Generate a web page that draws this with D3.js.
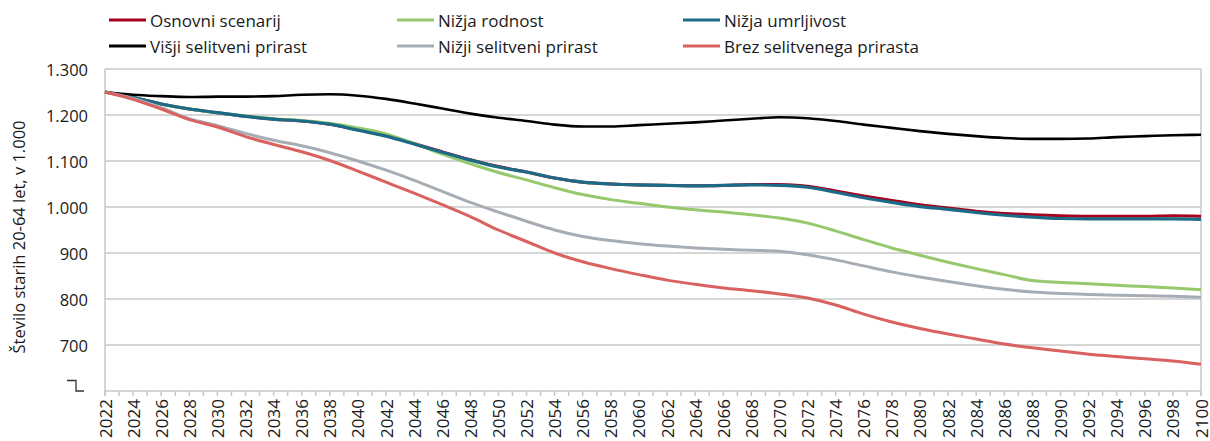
<!DOCTYPE html>
<html><head><meta charset="utf-8">
<script src="https://cdn.jsdelivr.net/npm/d3@7"></script>
<style>
body{margin:0;background:#fff}
svg{display:block}
text{font-family:"Open Sans",sans-serif;fill:#1a1a1a}
</style>
</head><body>
<svg id="chart" width="1210" height="441"></svg>
<script>
// ---------- data ----------
const years = [2022,2024,2026,2028,2030,2032,2034,2036,2038,2040,2042,2044,2046,2048,2050,2052,2054,2056,2058,2060,
               2062,2064,2066,2068,2070,2072,2074,2076,2078,2080,2082,2084,2086,2088,2090,2092,2094,2096,2098,2100];

const osnovni =   [1250,1238,1224,1213,1205,1197,1191,1187,1180,1168,1155,1138,1120,1103,1088,1076,1063,1054,1050,1048,
                   1047,1046,1047,1049,1049,1045,1035,1024,1014,1005,998,991,986,983,981,980,980,980,981,980];
const nizjaRodnost = [1250,1238,1224,1213,1205,1198,1192,1188,1182,1172,1159,1138,1115,1094,1075,1059,1042,1027,1016,1008,
                   1000,994,989,983,976,965,948,929,911,895,880,866,853,840,836,833,830,827,824,820];
const nizjaUmrljivost = [1250,1238,1224,1213,1205,1197,1191,1187,1180,1167,1154,1137,1119,1102,1087,1076,1063,1054,1050,1048,
                   1047,1046,1047,1048,1047,1043,1032,1020,1010,1001,995,988,982,978,975,974,974,974,974,973];
const visjiSelitveni = [1250,1244,1241,1239,1240,1240,1241,1244,1245,1242,1235,1225,1214,1203,1194,1187,1179,1175,1175,1178,
                   1181,1184,1188,1192,1195,1193,1187,1179,1172,1165,1159,1154,1150,1148,1148,1149,1152,1154,1156,1157];
const nizjiSelitveni = [1250,1236,1216,1192,1177,1160,1145,1133,1118,1100,1080,1058,1034,1010,989,969,950,936,927,920,
                   915,911,908,906,904,896,885,872,859,848,838,829,821,815,812,810,808,807,806,804];
const brezSelitvenega = [1250,1234,1213,1190,1174,1153,1136,1120,1101,1078,1054,1030,1005,979,950,925,900,881,866,853,
                   841,832,824,818,811,802,787,767,750,736,724,713,702,694,687,680,675,670,665,658];

const seriesNames = ["Osnovni scenarij","Nižja rodnost","Nižja umrljivost","Višji selitveni prirast","Nižji selitveni prirast","Brez selitvenega prirasta"];
const seriesValues = [osnovni,nizjaRodnost,nizjaUmrljivost,visjiSelitveni,nizjiSelitveni,brezSelitvenega];
const seriesColors = ["#A8001C","#96C86E","#1B6B87","#000000","#A7ADB5","#D9615F"];

const yTickValues = [700,800,900,1000,1100,1200,1300];
const xLabelYears = [2022,2024,2026,2028,2030,2032,2034,2036,2038,2040,2042,2044,2046,2048,2050,2052,2054,2056,2058,2060,
                     2062,2064,2066,2068,2070,2072,2074,2076,2078,2080,2082,2084,2086,2088,2090,2092,2094,2096,2098,2100];
const yTitle = "Število starih 20-64 let, v 1.000";

// ---------- layout ----------
const svg = d3.select("#chart");
const L = 105, R = 1201, T = 69, B = 391;
const x = d3.scaleLinear().domain([2022,2100]).range([L,R]);
const y = d3.scaleLinear().domain([600,1300]).range([B,T]);
const loc = d3.formatLocale({decimal:",",thousands:".",grouping:[3],currency:["",""]});
const fmt = loc.format(",");
const grid = "#C8C8C8";

// gridlines
svg.append("g").selectAll("line").data(yTickValues).join("line")
  .attr("x1",L).attr("x2",R).attr("y1",d=>y(d)).attr("y2",d=>y(d))
  .attr("stroke",grid).attr("stroke-width",1.5);

// y labels
svg.append("g").selectAll("text").data(yTickValues).join("text")
  .attr("x",88).attr("y",d=>y(d)).attr("text-anchor","end").attr("dominant-baseline","central")
  .style("font-size","16.5px").text(d=>fmt(d));

// frame: left axis, right border, bottom axis
svg.append("line").attr("x1",L).attr("x2",L).attr("y1",T).attr("y2",B+5).attr("stroke",grid).attr("stroke-width",1.5);
svg.append("line").attr("x1",R).attr("x2",R).attr("y1",T).attr("y2",B+5).attr("stroke",grid).attr("stroke-width",1.5);
svg.append("line").attr("x1",L).attr("x2",R).attr("y1",B).attr("y2",B).attr("stroke",grid).attr("stroke-width",1.5);

// x ticks every year
const tickYears = d3.range(2022,2101);
svg.append("g").selectAll("line").data(tickYears).join("line")
  .attr("x1",d=>x(d)).attr("x2",d=>x(d)).attr("y1",B).attr("y2",B+5)
  .attr("stroke",grid).attr("stroke-width",1.5);

// x labels
svg.append("g").selectAll("text").data(xLabelYears).join("text")
  .attr("transform",d=>`translate(${x(d)},399) rotate(-90)`)
  .attr("text-anchor","end").attr("dominant-baseline","central")
  .style("font-size","17px").text(d=>d);

// axis break symbol
svg.append("path").attr("d",`M67,${B-10.5}H76V${B}H84`).attr("fill","none").attr("stroke","#333").attr("stroke-width",1.3);

// y title
svg.append("text").attr("transform",`translate(18,237) rotate(-90)`)
  .attr("text-anchor","middle").attr("dominant-baseline","central")
  .style("font-size","16.5px").text(yTitle);

// lines
const line = d3.line().x((d,i)=>x(years[i])).y(d=>y(d)).curve(d3.curveMonotoneX);
const widths = [3,3,3.2,2.6,3,3];
seriesValues.forEach((vals,k)=>{
  svg.append("path").datum(vals).attr("d",line).attr("fill","none")
    .attr("stroke",seriesColors[k]).attr("stroke-width",widths[k]).attr("stroke-linejoin","round");
});

// legend
const legPos = [[109,20],[397,20],[683,20],[109,46],[397,46],[683,46]];
seriesNames.forEach((n,k)=>{
  const [lx,ly] = legPos[k];
  svg.append("line").attr("x1",lx).attr("x2",lx+37).attr("y1",ly).attr("y2",ly)
    .attr("stroke",seriesColors[k]).attr("stroke-width",3);
  svg.append("text").attr("x",lx+41).attr("y",ly).attr("dominant-baseline","central")
    .style("font-size","17px").text(n);
});
</script>
</body></html>
